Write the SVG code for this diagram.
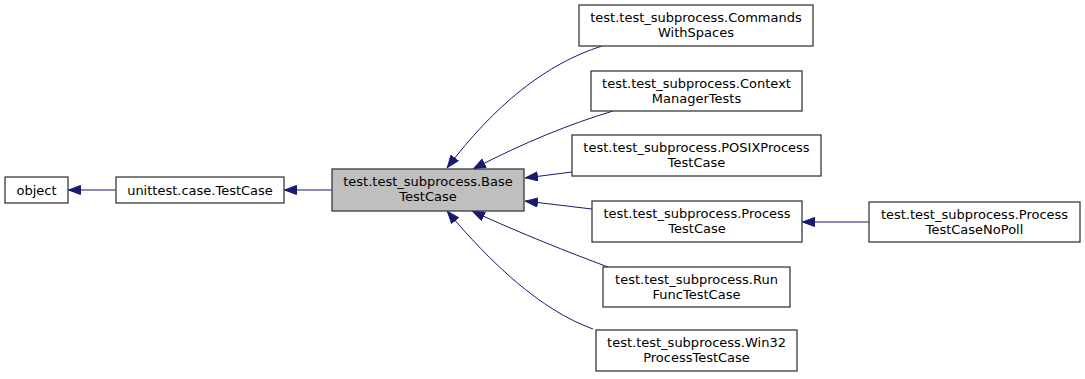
<svg xmlns="http://www.w3.org/2000/svg" width="1085" height="379" viewBox="0 0 1085 379">
  <style>
    .box { fill: #ffffff; stroke: #3a3a3a; stroke-width: 1.3; }
    .cur { fill: #bfbfbf; stroke: #3a3a3a; stroke-width: 1.3; }
    text { font-family: "DejaVu Sans", sans-serif; font-size: 13px; fill: #000000; text-anchor: middle; }
    .edge { fill: none; stroke: #191970; stroke-width: 1; marker-end: url(#arrow); }
  </style>
  <defs>
    <marker id="arrow" viewBox="0 0 13 10" refX="13" refY="5" markerWidth="13" markerHeight="10" markerUnits="userSpaceOnUse" orient="auto">
      <path d="M0.5,0.5 L12.5,5 L0.5,9.5 Z" fill="#191970" stroke="#191970" stroke-width="1"/>
    </marker>
  </defs>
  <rect width="1085" height="379" fill="#ffffff"/>

  <g id="edges">
    <path class="edge" d="M116,190 L68,190"/>
    <path class="edge" d="M332,190 L284,190"/>
    <path class="edge" d="M602,46 C545,64 494,106 447,168"/>
    <path class="edge" d="M613,111 C570,124 525,142 473,169"/>
    <path class="edge" d="M572,172 L525,178"/>
    <path class="edge" d="M592,209 L525,201"/>
    <path class="edge" d="M608,267 C568,252 522,234 472,211"/>
    <path class="edge" d="M593,329 C540,310 490,262 447,211"/>
    <path class="edge" d="M869,222 L802,222"/>
  </g>

  <g id="node-object">
    <rect class="box" x="5" y="177" width="63" height="26"/>
    <text x="36.5" y="194.5">object</text>
  </g>
  <g id="node-testcase">
    <rect class="box" x="116" y="177" width="168" height="26"/>
    <text x="200" y="194.5">unittest.case.TestCase</text>
  </g>
  <g id="node-base">
    <rect class="cur" x="332" y="169" width="192" height="42"/>
    <text x="428" y="186">test.test_subprocess.Base</text>
    <text x="428" y="201">TestCase</text>
  </g>
  <g id="node-commands">
    <rect class="box" x="579" y="5" width="234" height="41"/>
    <text x="696" y="22">test.test_subprocess.Commands</text>
    <text x="696" y="37">WithSpaces</text>
  </g>
  <g id="node-context">
    <rect class="box" x="591" y="71" width="211" height="40"/>
    <text x="696.5" y="88">test.test_subprocess.Context</text>
    <text x="696.5" y="103">ManagerTests</text>
  </g>
  <g id="node-posix">
    <rect class="box" x="572" y="135" width="249" height="41"/>
    <text x="696.5" y="152">test.test_subprocess.POSIXProcess</text>
    <text x="696.5" y="167">TestCase</text>
  </g>
  <g id="node-process">
    <rect class="box" x="592" y="201" width="210" height="41"/>
    <text x="697" y="218">test.test_subprocess.Process</text>
    <text x="697" y="233">TestCase</text>
  </g>
  <g id="node-run">
    <rect class="box" x="603" y="267" width="187" height="40"/>
    <text x="696.5" y="284">test.test_subprocess.Run</text>
    <text x="696.5" y="299">FuncTestCase</text>
  </g>
  <g id="node-win32">
    <rect class="box" x="596" y="330" width="201" height="41"/>
    <text x="696.5" y="347">test.test_subprocess.Win32</text>
    <text x="696.5" y="362">ProcessTestCase</text>
  </g>
  <g id="node-nopoll">
    <rect class="box" x="869" y="202" width="211" height="40"/>
    <text x="974.5" y="219">test.test_subprocess.Process</text>
    <text x="974.5" y="234">TestCaseNoPoll</text>
  </g>
</svg>
